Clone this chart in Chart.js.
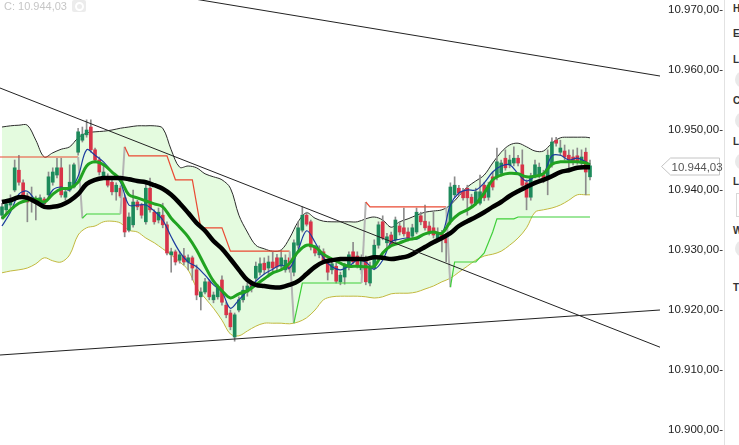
<!DOCTYPE html>
<html>
<head>
<meta charset="utf-8">
<script src="https://cdn.jsdelivr.net/npm/chart.js@4.4.1/dist/chart.umd.min.js"></script>
<style>
html, body { margin: 0; padding: 0; background: #fff; overflow: hidden; }
#wrap { position: relative; width: 739px; height: 445px; }
#info { position: absolute; left: 4px; top: 0; font: 11px "Liberation Sans", Arial, sans-serif; color: #c6c6c6; }
#gear { position: absolute; left: 72px; top: 0; width: 14px; height: 12px; background: #ececec; border-radius: 2px; }
#gear i { position: absolute; left: 3px; top: 2px; width: 5px; height: 5px; border: 2px solid #fff; border-radius: 50%; }
#side { position: absolute; left: 724px; top: 0; width: 15px; height: 445px; border-left: 1px solid #e2e2e2; background: #fff;
        font: bold 10px "Liberation Sans", Arial, sans-serif; color: #333; overflow: hidden; }
#side .s { position: absolute; left: 8px; }
#side .dot { position: absolute; left: 10px; width: 17px; height: 17px; border-radius: 50%; background: #e9e9e9; }
#side .box { position: absolute; left: 11px; width: 20px; height: 22px; border: 1px solid #d8d8d8; background: #fff; }
</style>
</head>
<body>
<div id="wrap">
  <canvas id="chart"></canvas>
  <div id="info"></div>
  <div id="gear"><i></i></div>
  <div id="side">
    <span class="s" style="top:3px">H</span>
    <span class="s" style="top:28px">E</span>
    <span class="s" style="top:54px">L</span>
    <div class="dot" style="top:71px"></div>
    <span class="s" style="top:95px">C</span>
    <div class="dot" style="top:112px"></div>
    <span class="s" style="top:136px">L</span>
    <div class="dot" style="top:153px"></div>
    <span class="s" style="top:176px">L</span>
    <div class="box" style="top:193px"></div>
    <span class="s" style="top:225px">W</span>
    <div class="dot" style="top:240px"></div>
    <span class="s" style="top:282px">T</span>
  </div>
</div>
<script>
// candles (one per bar)
const open = [
  10935.8,10936.7,10937.5,10940.0,10943.3,10941.2,10939.0,10938.3,10938.5,10937.8,
  10938.5,10939.2,10941.3,10942.5,10943.7,10938.8,10940.0,10940.5,10946.3,10948.3,
  10949.2,10950.5,10946.7,10945.0,10942.2,10942.2,10941.3,10939.7,10940.3,10938.7,
  10933.3,10934.2,10938.0,10937.5,10934.7,10940.3,10936.3,10935.0,10935.8,10934.2,
  10929.2,10929.7,10928.3,10929.0,10928.0,10928.7,10926.7,10922.2,10923.0,10924.7,
  10921.7,10922.2,10925.0,10920.8,10919.5,10915.5,10920.0,10921.7,10923.0,10924.3,
  10925.3,10926.3,10927.8,10927.0,10928.0,10928.7,10927.3,10926.7,10928.7,10926.3,
  10930.8,10933.3,10935.8,10934.7,10930.5,10929.2,10929.7,10928.2,10926.7,10927.3,
  10924.7,10925.5,10927.2,10929.7,10929.0,10926.7,10928.3,10924.5,10927.0,10930.8,
  10934.7,10931.2,10932.5,10931.7,10934.0,10933.7,10933.0,10932.3,10933.0,10935.7,
  10934.8,10934.0,10933.7,10932.0,10932.7,10932.3,10934.7,10939.2,10940.3,10939.8,
  10940.3,10938.8,10937.8,10937.8,10940.8,10938.8,10942.2,10942.2,10942.8,10945.3,
  10944.2,10944.5,10945.3,10944.2,10941.2,10938.8,10942.5,10942.5,10942.5,10942.0,
  10944.2,10948.3,10946.3,10946.5,10945.8,10945.5,10945.7,10944.5,10946.3,10942.2
];
const high = [
  10937.8,10938.3,10939.2,10945.0,10945.8,10941.7,10939.5,10940.5,10939.0,10939.2,
  10938.8,10943.0,10943.7,10945.3,10945.3,10940.3,10944.2,10944.5,10950.3,10950.5,
  10951.7,10951.7,10947.0,10945.5,10944.2,10942.7,10941.7,10941.2,10940.7,10939.2,
  10936.2,10940.0,10938.3,10937.8,10941.3,10942.0,10936.7,10937.0,10937.8,10934.7,
  10930.3,10930.0,10929.7,10930.3,10929.2,10929.0,10927.5,10923.7,10925.3,10925.0,
  10923.0,10924.2,10925.7,10921.3,10920.0,10919.5,10922.2,10924.0,10924.5,10924.8,
  10928.0,10928.7,10928.7,10929.0,10929.7,10929.3,10930.0,10929.2,10929.2,10931.7,
  10934.7,10937.2,10936.3,10935.0,10930.8,10930.7,10930.2,10928.5,10928.3,10927.8,
  10926.3,10927.8,10929.7,10931.3,10929.7,10929.2,10929.0,10928.0,10931.7,10934.7,
  10935.7,10932.8,10933.0,10935.5,10934.7,10937.0,10933.7,10934.3,10937.0,10936.3,
  10937.5,10934.7,10936.3,10933.7,10933.3,10932.8,10941.2,10942.2,10940.8,10940.3,
  10940.8,10939.3,10940.3,10942.5,10941.3,10941.3,10943.0,10947.0,10945.0,10946.7,
  10945.8,10947.2,10945.8,10946.7,10941.7,10942.8,10945.0,10944.5,10943.3,10946.7,
  10948.7,10948.8,10948.3,10947.5,10946.7,10946.7,10947.0,10946.7,10947.0,10945.0
];
const low = [
  10935.2,10936.0,10937.0,10939.7,10940.8,10938.7,10934.7,10936.3,10935.0,10937.3,
  10937.0,10938.8,10940.8,10942.0,10938.8,10938.3,10939.7,10940.3,10945.8,10948.0,
  10948.8,10946.3,10944.5,10942.5,10942.0,10940.5,10939.2,10938.3,10938.7,10932.2,
  10933.0,10933.8,10936.7,10935.3,10934.3,10936.3,10934.3,10934.5,10933.7,10929.2,
  10926.3,10927.5,10927.8,10927.5,10926.7,10925.0,10921.7,10920.0,10922.7,10921.7,
  10921.2,10921.8,10920.8,10918.7,10916.7,10914.8,10919.7,10921.3,10922.3,10923.0,
  10924.8,10925.8,10926.0,10925.5,10926.3,10926.7,10926.7,10926.3,10926.3,10925.7,
  10930.3,10933.0,10934.0,10930.0,10929.0,10928.7,10928.0,10925.0,10926.0,10924.5,
  10924.2,10924.3,10926.7,10927.7,10927.0,10926.0,10924.2,10924.0,10926.7,10930.3,
  10931.7,10930.0,10930.7,10931.2,10932.5,10932.3,10931.5,10931.7,10932.7,10934.2,
  10933.3,10932.5,10932.0,10931.7,10929.7,10928.0,10934.3,10938.8,10939.0,10938.3,
  10935.8,10937.3,10937.5,10937.5,10938.2,10938.3,10940.0,10941.7,10942.3,10943.3,
  10943.7,10944.0,10944.0,10940.3,10936.7,10938.3,10942.0,10942.0,10941.2,10939.2,
  10943.8,10947.3,10945.8,10945.0,10943.0,10944.2,10944.3,10944.0,10939.2,10941.7
];
const close = [
  10937.2,10937.7,10938.2,10943.7,10941.3,10939.2,10938.0,10938.7,10937.8,10938.7,
  10937.7,10942.2,10943.0,10943.7,10939.2,10939.7,10941.3,10944.2,10949.7,10949.3,
  10950.0,10946.7,10945.0,10943.0,10943.0,10940.8,10939.7,10940.8,10939.0,10933.0,
  10935.5,10938.0,10937.2,10935.8,10940.3,10936.7,10934.7,10936.3,10934.2,10929.5,
  10929.7,10928.0,10929.2,10928.0,10928.7,10927.0,10922.5,10923.0,10924.7,10922.2,
  10922.5,10923.7,10921.3,10919.2,10917.2,10919.2,10921.7,10923.3,10924.0,10923.7,
  10927.3,10927.7,10926.7,10928.0,10927.0,10927.2,10928.7,10928.3,10926.8,10931.2,
  10933.7,10935.8,10934.3,10930.5,10929.5,10930.0,10928.3,10926.3,10927.7,10924.8,
  10925.8,10927.3,10929.2,10928.0,10927.5,10928.7,10924.7,10927.0,10930.8,10934.2,
  10932.0,10932.2,10931.0,10935.0,10933.0,10932.7,10932.0,10933.7,10936.3,10934.7,
  10933.7,10933.0,10932.5,10932.8,10931.7,10931.2,10940.5,10940.8,10939.5,10938.7,
  10938.7,10937.8,10939.7,10939.7,10938.7,10940.8,10940.5,10944.7,10944.5,10943.7,
  10945.0,10945.3,10944.5,10940.8,10938.8,10942.2,10944.2,10943.8,10941.7,10945.8,
  10948.0,10947.8,10947.0,10945.5,10945.0,10944.7,10944.8,10945.5,10943.0,10944.03
];

// indicator lines, read every second bar
const lineIdx = [];
for (let i = 0; i <= 138; i += 2) lineIdx.push(i);
lineIdx.push(139);

const upperBand = [
  10950.5,10950.7,10950.8,10950.8,10948.3,10945.5,10946.2,10946.8,10947.2,10948.7,
  10949.5,10949.7,10949.8,10950.0,10950.3,10950.5,10950.7,10950.7,10950.7,10950.3,
  10946.7,10943.8,10944.0,10943.7,10942.7,10942.2,10941.7,10940.3,10935.8,10933.0,
  10930.8,10930.2,10929.8,10930.0,10932.0,10934.7,10936.2,10935.3,10934.8,10934.7,
  10934.7,10934.7,10934.7,10935.2,10935.5,10935.0,10933.8,10934.7,10935.2,10935.8,
  10936.3,10936.5,10936.7,10937.5,10939.0,10940.5,10941.5,10942.5,10944.5,10946.3,
  10947.5,10947.8,10947.2,10946.5,10946.5,10947.8,10948.7,10948.8,10948.8,10948.8,
  10948.7
];
const lowerBand = [
  10926.2,10926.5,10926.7,10927.0,10927.7,10928.7,10928.2,10928.0,10929.2,10932.5,
  10933.7,10934.0,10934.7,10934.8,10934.5,10933.3,10933.0,10932.0,10931.2,10930.2,
  10929.2,10928.0,10926.7,10923.7,10922.0,10920.3,10918.3,10916.0,10915.7,10916.5,
  10917.3,10917.8,10917.8,10917.8,10917.7,10918.0,10918.7,10920.0,10921.7,10922.2,
  10922.3,10922.3,10922.3,10922.2,10922.0,10922.2,10922.7,10922.8,10922.8,10923.0,
  10923.5,10924.0,10924.7,10925.3,10926.3,10927.3,10928.3,10929.0,10929.3,10929.8,
  10930.8,10932.0,10933.7,10936.3,10936.7,10937.0,10937.5,10938.3,10939.2,10939.2,
  10939.2
];
const maSlow = [
  10938.0,10938.3,10938.8,10938.7,10938.0,10937.2,10937.2,10937.5,10938.2,10939.3,
  10941.0,10941.7,10942.0,10942.0,10942.0,10941.8,10941.5,10941.3,10940.8,10940.2,
  10939.2,10937.8,10936.2,10934.5,10933.2,10931.5,10930.2,10928.5,10926.7,10925.0,
  10924.2,10924.0,10923.8,10923.8,10924.2,10924.8,10926.0,10927.2,10928.0,10928.3,
  10928.5,10928.5,10928.5,10928.5,10928.8,10928.7,10928.5,10928.7,10929.0,10929.7,
  10930.5,10931.3,10932.0,10932.8,10934.0,10934.8,10935.5,10936.3,10937.2,10938.0,
  10939.0,10939.8,10940.5,10941.2,10941.7,10942.3,10943.0,10943.3,10943.7,10943.8,
  10943.8
];
const maMid = [
  10935.2,10936.7,10937.8,10938.3,10938.5,10938.0,10939.3,10940.2,10940.3,10941.3,
  10944.0,10944.7,10944.2,10943.0,10941.7,10939.2,10938.7,10938.2,10937.7,10937.2,
  10935.3,10933.8,10932.2,10930.0,10927.3,10924.8,10923.2,10922.0,10922.7,10923.2,
  10924.2,10925.2,10926.2,10926.7,10927.8,10929.7,10930.8,10930.5,10929.3,10928.5,
  10927.8,10927.3,10927.3,10927.2,10927.3,10929.5,10930.7,10931.2,10931.7,10932.0,
  10932.7,10933.0,10932.8,10934.7,10936.0,10936.7,10937.7,10939.5,10941.7,10942.5,
  10942.8,10942.7,10942.2,10942.3,10942.7,10944.3,10944.7,10944.7,10944.7,10944.5,
  10944.2
];
const maFast = [
  10934.0,10936.3,10939.3,10939.8,10938.3,10937.8,10940.0,10940.5,10940.0,10942.3,
  10946.7,10945.8,10944.7,10943.0,10941.3,10937.5,10937.5,10937.5,10936.5,10935.0,
  10932.2,10929.7,10928.0,10927.2,10925.8,10924.2,10923.0,10920.3,10921.7,10923.2,
  10924.8,10926.0,10926.8,10927.5,10927.0,10930.0,10933.2,10931.3,10928.7,10927.2,
  10926.7,10927.3,10928.3,10928.0,10926.8,10928.3,10931.3,10931.8,10932.0,10931.8,
  10932.7,10933.0,10932.7,10937.5,10939.5,10940.0,10940.0,10941.2,10943.0,10944.0,
  10944.2,10942.7,10941.5,10942.2,10942.7,10945.7,10945.8,10945.0,10945.3,10944.7,
  10944.2
];

// trailing stop: 1 = long (below price), -1 = short (above price)
const stopIdx = [-0.5,18, 19,20,28, 29,30,39,41,45,47,52,54,68, 69,71,85, 86,87,105,
  106,107,112,114,116,117,121,122,139];
const stopVal = [10945.5,10945.5, 10935.3,10936.0,10936.0,
  10947.2,10945.7,10945.7,10941.7,10941.7,10933.7,10933.7,10929.8,10929.8,
  10917.8,10924.5,10924.5, 10938.0,10937.2,10937.2,
  10923.8,10928.0,10928.0,10929.5,10933.0,10935.2,10935.2,10935.5,10935.5];
const stopSide = [-1,-1, 1,1,1, -1,-1,-1,-1,-1,-1,-1,-1,-1, 1,1,1, -1,-1,-1,
  1,1,1,1,1,1,1,1,1];

// drawn trend lines, left and right edge of the plot
const trendIdx = [-0.47, 155.55];
const trendA = [10977.2, 10959.0];
const trendB = [10957.0, 10913.8];
const trendC = [10912.5, 10920.0];

const yTicks = [10900, 10910, 10920, 10930, 10940, 10950, 10960, 10970];

function fmt(v) {
  const parts = v.toFixed(2).split('.');
  return parts[0].replace(/\B(?=(\d{3})+(?!\d))/g, '.') + ',' + parts[1];
}

const UP = '#1d8a5b';
const DOWN = '#d83449';
const last = close[close.length - 1];
document.getElementById('info').textContent = 'C: ' + fmt(last);

const pts = (xs, ys) => xs.map((x, j) => ({ x: x, y: ys[j] }));
const lineDs = (data, color, width, order) => ({
  type: 'line', data: data, borderColor: color, borderWidth: width,
  pointRadius: 0, tension: 0.35, fill: false, order: order
});

const bodies = open.map((o, i) => ({ x: i, y: [o, close[i]] }));
const wicks = open.map((o, i) => ({ x: i, y: [low[i], high[i]] }));

const priceTag = {
  id: 'priceTag',
  afterDraw(chart) {
    const ctx = chart.ctx;
    const y = Math.round(chart.scales.y.getPixelForValue(last)) + 0.5;
    const x0 = chart.chartArea.right + 1.5;
    ctx.save();
    ctx.beginPath();
    ctx.moveTo(x0, y);
    ctx.lineTo(x0 + 9, y - 8.5);
    ctx.lineTo(x0 + 58, y - 8.5);
    ctx.lineTo(x0 + 58, y + 8.5);
    ctx.lineTo(x0 + 9, y + 8.5);
    ctx.closePath();
    ctx.fillStyle = '#fff';
    ctx.fill();
    ctx.strokeStyle = '#c4c4c4';
    ctx.lineWidth = 1;
    ctx.stroke();
    ctx.fillStyle = '#555';
    ctx.font = '11.5px "Liberation Sans", Arial, sans-serif';
    ctx.textBaseline = 'middle';
    ctx.fillText(fmt(last), x0 + 10, y + 1);
    ctx.restore();
  }
};

new Chart(document.getElementById('chart'), {
  type: 'line',
  data: {
    datasets: [
      Object.assign(lineDs(pts(lineIdx, upperBand), '#2b2b2b', 1, 20),
        { fill: '+1', backgroundColor: '#e4fbdf' }),
      lineDs(pts(lineIdx, lowerBand), '#c2b83e', 1, 19),
      {
        type: 'bar', data: wicks, backgroundColor: '#8c8c8c',
        barThickness: 1, grouped: false, order: 18
      },
      {
        type: 'bar', data: bodies, grouped: false, barThickness: 3, order: 17,
        backgroundColor: open.map((o, i) => close[i] >= o ? UP : DOWN)
      },
      {
        type: 'line', data: pts(stopIdx, stopVal), borderWidth: 1.2, pointRadius: 0,
        tension: 0, fill: false, order: 16,
        segment: {
          borderColor: c => {
            const a = stopSide[c.p0DataIndex], b = stopSide[c.p1DataIndex];
            if (a !== b) return '#b4b4b4';
            return a > 0 ? '#3fcf3a' : '#ea4a33';
          },
          borderWidth: c => stopSide[c.p0DataIndex] !== stopSide[c.p1DataIndex] ? 2 : 1.2
        }
      },
      lineDs(pts(lineIdx, maFast), '#1c3c9e', 1.2, 15),
      lineDs(pts(lineIdx, maMid), '#21a321', 3, 14),
      lineDs(pts(lineIdx, maSlow), '#000', 4.5, 13),
      Object.assign(lineDs(pts(trendIdx, trendA), '#222', 1, 12), { tension: 0 }),
      Object.assign(lineDs(pts(trendIdx, trendB), '#222', 1, 11), { tension: 0 }),
      Object.assign(lineDs(pts(trendIdx, trendC), '#222', 1.2, 10), { tension: 0 })
    ]
  },
  options: {
    responsive: true,
    maintainAspectRatio: false,
    animation: false,
    layout: { padding: 0 },
    plugins: { legend: { display: false }, tooltip: { enabled: false } },
    scales: {
      x: {
        type: 'linear', display: false, offset: false,
        min: trendIdx[0], max: trendIdx[1]
      },
      y: {
        type: 'linear', position: 'right',
        min: 10897.5, max: 10971.67,
        grid: { display: false, drawTicks: false },
        border: { display: false },
        afterBuildTicks: s => { s.ticks = yTicks.map(v => ({ value: v })); },
        afterFit: s => { s.width = 79; s.paddingTop = 0; s.paddingBottom = 0; },
        ticks: {
          padding: 8,
          color: '#222',
          font: { family: '"Liberation Sans", Arial, sans-serif', size: 11.5 },
          callback: v => fmt(v) + '-'
        }
      }
    }
  },
  plugins: [priceTag]
});
</script>
</body>
</html>
